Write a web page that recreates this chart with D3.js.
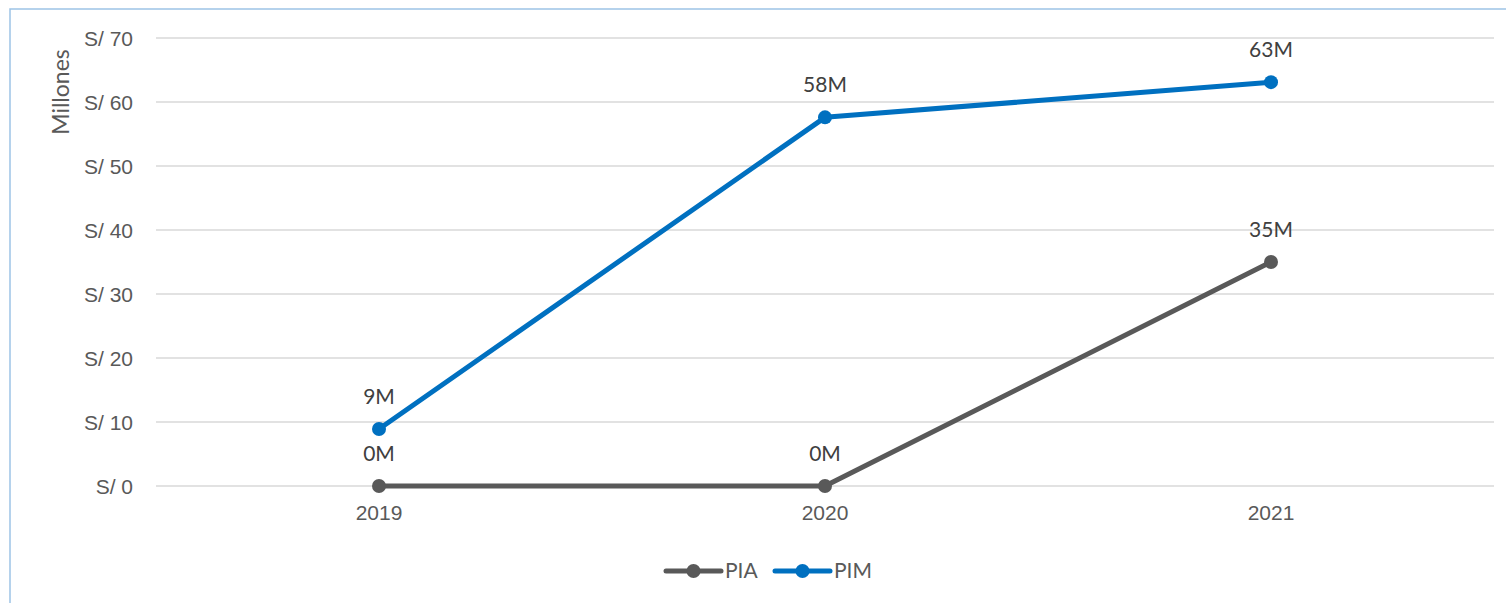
<!DOCTYPE html>
<html><head><meta charset="utf-8">
<script src="https://cdn.jsdelivr.net/npm/d3@7"></script>
<style>
html,body{margin:0;padding:0;background:#fff;}
svg{display:block;font-family:Lato,"Open Sans",sans-serif;}
</style></head>
<body><svg id="c" width="1506" height="603"></svg>
<script>
const categories = ["2019","2020","2021"];
const seriesNames = ["PIA","PIM"];
const piaValues = [0, 0, 35.0];
const pimValues = [8.9, 57.6, 63.1];
const dataLabels = {PIA:["0M","0M","35M"], PIM:["9M","58M","63M"]};
const yTicks = [0,10,20,30,40,50,60,70];
const colors = {PIA:"#595959", PIM:"#0070C0"};

const svg = d3.select("#c");
svg.append("rect").attr("x",10).attr("y",9).attr("width",1510).attr("height",620)
  .attr("fill","#fff").attr("stroke","#9DC3E6").attr("stroke-width",1.5);

const x = d3.scaleBand().domain(categories).range([156,1494]);
const y = d3.scaleLinear().domain([0,70]).range([486,38]);

const g = svg.append("g");
g.selectAll("line.grid").data(yTicks).join("line")
  .attr("x1",156).attr("x2",1494)
  .attr("y1",d=>y(d)).attr("y2",d=>y(d))
  .attr("stroke","#d9d9d9").attr("stroke-width",1.5);

const yAxis = d3.axisLeft(y).tickValues(yTicks).tickSize(0).tickPadding(0).tickFormat(d=>"S/ "+d);
const ya = g.append("g").attr("transform","translate(133,0)").call(yAxis);
ya.select(".domain").remove();
ya.selectAll("text").attr("fill","#595959").style("font-size","21px").attr("dy","0.35em");

const xAxis = d3.axisBottom(x).tickSize(0).tickPadding(0);
const xa = g.append("g").attr("transform","translate(0,504)").call(xAxis);
xa.select(".domain").remove();
xa.selectAll("text").attr("fill","#595959").style("font-size","21px").attr("dy","0.75em");

svg.append("text").attr("transform","translate(69,92) rotate(-90)")
  .attr("text-anchor","middle").attr("fill","#595959").style("font-size","23px").text("Millones");

const series = [{name:"PIA", values:piaValues},{name:"PIM", values:pimValues}];
const cx = c => x(c)+x.bandwidth()/2;
const line = d3.line().x((d,i)=>cx(categories[i])).y(d=>y(d));
series.forEach(s=>{
  g.append("path").datum(s.values).attr("d",line).attr("fill","none")
    .attr("stroke",colors[s.name]).attr("stroke-width",5).attr("stroke-linejoin","round").attr("stroke-linecap","round");
  g.selectAll(null).data(s.values).join("circle")
    .attr("cx",(d,i)=>cx(categories[i])).attr("cy",d=>y(d)).attr("r",7).attr("fill",colors[s.name]);
  g.selectAll(null).data(s.values).join("text")
    .attr("x",(d,i)=>cx(categories[i])).attr("y",d=>y(d)-25)
    .attr("text-anchor","middle").attr("fill","#404040").style("font-size","21px")
    .text((d,i)=>dataLabels[s.name][i]);
});

const legend = [{name:"PIA", x:666},{name:"PIM", x:775}];
legend.forEach(l=>{
  const lg = svg.append("g").attr("transform",`translate(${l.x},571)`);
  lg.append("line").attr("x1",0).attr("x2",55).attr("y1",0).attr("y2",0)
    .attr("stroke",colors[l.name]).attr("stroke-width",5).attr("stroke-linecap","round");
  lg.append("circle").attr("cx",27.5).attr("cy",0).attr("r",7).attr("fill",colors[l.name]);
  lg.append("text").attr("x",59).attr("y",0).attr("dy","0.35em").attr("fill","#595959").style("font-size","21px").text(l.name);
});
</script></body></html>
